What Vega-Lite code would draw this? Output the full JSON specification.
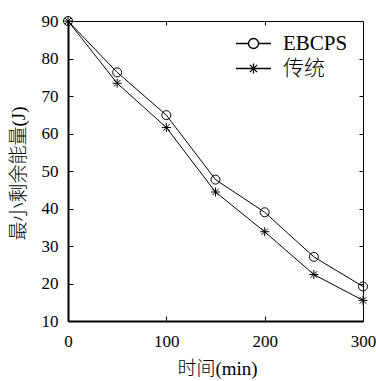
{
  "$schema": "https://vega.github.io/schema/vega-lite/v6.json",
  "width": 295,
  "height": 300,
  "autosize": "none",
  "padding": {"left": 68, "top": 21, "right": 13, "bottom": 60},
  "background": "white",
  "config": {
    "view": {"stroke": "black", "strokeWidth": 1},
    "style": {
      "guide-label": {"font": "Liberation Serif", "fontSize": 17, "fill": "black"},
      "guide-title": {"font": "Liberation Serif, Noto Sans CJK SC", "fontSize": 19, "fontWeight": 300, "fill": "black"}
    },
    "axis": {"grid": false, "labelFont": "Liberation Serif", "labelFontSize": 17, "labelColor": "black", "tickColor": "black", "domainColor": "black", "titleColor": "black", "titleFontWeight": 300, "titleFont": "Liberation Serif, Noto Sans CJK SC", "titleFontSize": 19}
  },
  "data": {
    "values": [
      {"t": 0, "e": 90, "s": "EBCPS"},
      {"t": 50, "e": 76.3, "s": "EBCPS"},
      {"t": 100, "e": 64.9, "s": "EBCPS"},
      {"t": 150, "e": 47.7, "s": "EBCPS"},
      {"t": 200, "e": 39.0, "s": "EBCPS"},
      {"t": 250, "e": 27.1, "s": "EBCPS"},
      {"t": 300, "e": 19.2, "s": "EBCPS"},
      {"t": 0, "e": 90, "s": "传统"},
      {"t": 50, "e": 73.4, "s": "传统"},
      {"t": 100, "e": 61.6, "s": "传统"},
      {"t": 150, "e": 44.4, "s": "传统"},
      {"t": 200, "e": 33.8, "s": "传统"},
      {"t": 250, "e": 22.4, "s": "传统"},
      {"t": 300, "e": 15.5, "s": "传统"}
    ]
  },
  "layer": [
    {
      "mark": {"type": "line", "color": "black", "strokeWidth": 1},
      "encoding": {
        "x": {"field": "t", "type": "quantitative", "scale": {"domain": [0, 300], "nice": false},
          "axis": {"orient": "bottom", "values": [0, 100, 200, 300], "tickSize": -5, "labelPadding": 17, "domainWidth": 2, "labelFlush": false,
            "title": "时间(min)", "titleX": 149, "titleY": 47, "titleBaseline": "middle", "titleAnchor": "middle"}},
        "y": {"field": "e", "type": "quantitative", "scale": {"domain": [10, 90], "nice": false},
          "axis": {"orient": "left", "values": [10, 20, 30, 40, 50, 60, 70, 80, 90], "tickSize": -5, "labelPadding": 15, "domainWidth": 2, "labelFlush": false, "labelBaseline": "middle",
            "title": "最小剩余能量(J)", "titleX": -50, "titleY": 152, "titleAngle": -90, "titleBaseline": "middle", "titleAnchor": "middle"}},
        "detail": {"field": "s", "type": "nominal"}
      }
    },
    {
      "mark": {"type": "point", "filled": false, "color": "black", "strokeWidth": 1, "size": 81, "opacity": 1},
      "encoding": {
        "x": {"field": "t", "type": "quantitative",
          "axis": {"orient": "top", "values": [100, 200], "tickSize": -4, "labels": false, "domain": false, "title": null}},
        "y": {"field": "e", "type": "quantitative",
          "axis": {"orient": "right", "values": [20, 30, 40, 50, 60, 70, 80], "tickSize": -4, "labels": false, "domain": false, "title": null}},
        "shape": {"field": "s", "type": "nominal",
          "scale": {"domain": ["EBCPS", "传统"], "range": ["circle", "M0,-1V1M-1,0H1M-0.72,-0.72L0.72,0.72M-0.72,0.72L0.72,-0.72"]},
          "legend": null}
      }
    },
    {
      "mark": {"type": "point", "filled": false, "color": "black", "strokeWidth": 1.3, "size": 100, "opacity": 0},
      "encoding": {
        "x": {"field": "t", "type": "quantitative", "axis": null},
        "y": {"field": "e", "type": "quantitative", "axis": null},
        "shape": {"field": "s", "type": "nominal",
          "scale": {"domain": ["EBCPS", "传统"], "range": ["M-3.5,0H-1M1,0H3.5M1,0A1,1 0 1 1 -1,0A1,1 0 1 1 1,0", "M-3.5,0H3.5M0,-1V1M-0.72,-0.72L0.72,0.72M-0.72,0.72L0.72,-0.72"]},
          "legend": {"title": null, "orient": "none", "legendX": 175, "legendY": 12, "padding": 0, "symbolSize": 100, "symbolStrokeWidth": 1.3, "symbolStrokeColor": "black", "symbolOpacity": 1,
            "labelFont": "Liberation Serif, Noto Sans CJK SC", "labelFontWeight": 300, "labelFontSize": 21, "labelColor": "black", "labelOffset": 19, "rowPadding": 3}}
      }
    }
  ],
  "resolve": {"scale": {"shape": "independent"}, "axis": {"x": "independent", "y": "independent"}}
}
